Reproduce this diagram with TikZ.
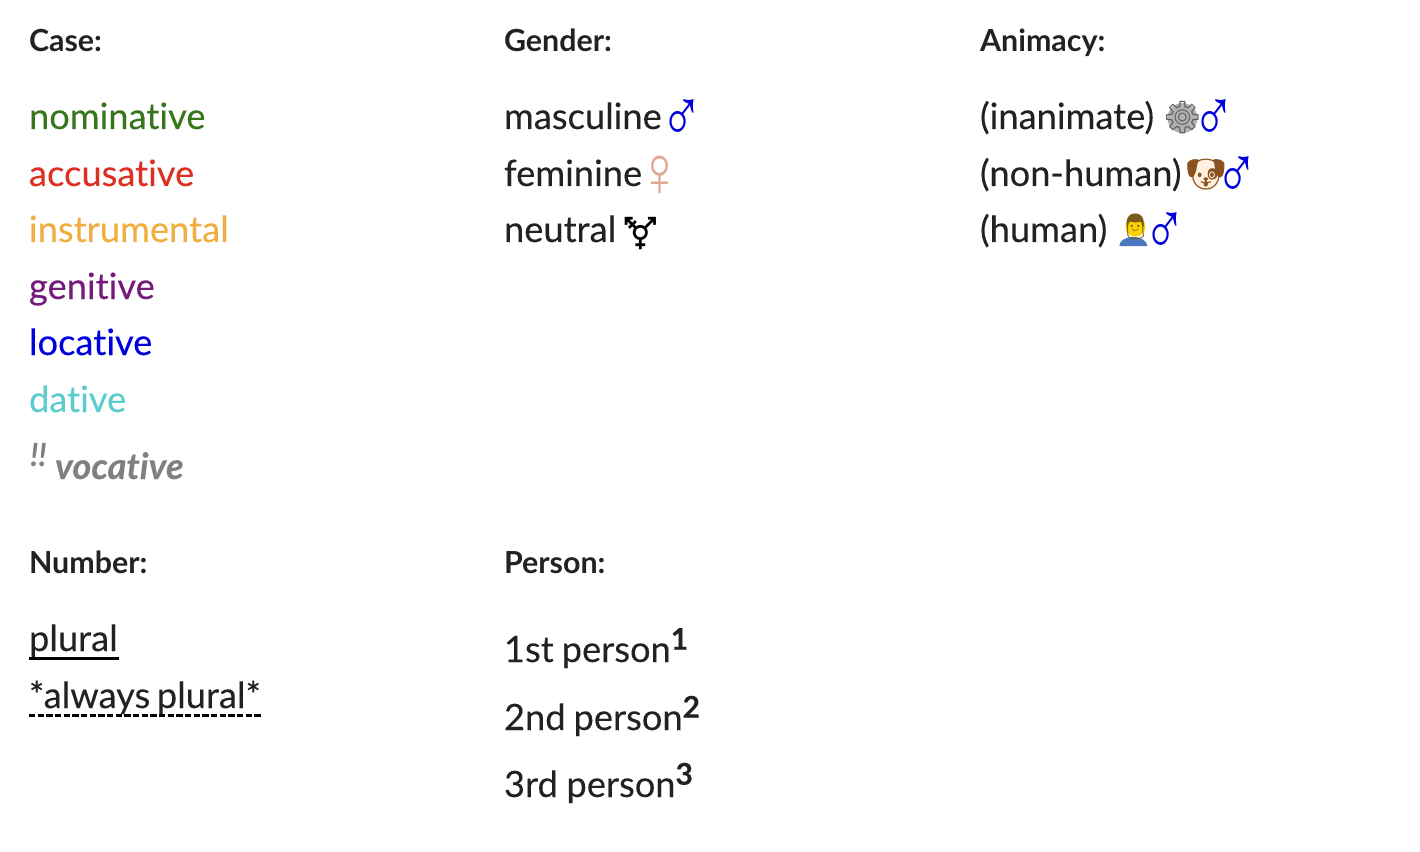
\documentclass[tikz,border=0pt]{standalone}
\usepackage{fontspec}
\usetikzlibrary{positioning,backgrounds}
\setmainfont[Ligatures=NoCommon]{Lato}
\newfontfamily\symfont{Liberation Sans}
\newfontfamily\emojifont{Noto Emoji}
\definecolor{ink}{HTML}{222222}
\definecolor{nomcol}{HTML}{38761D}
\definecolor{acccol}{HTML}{DC3020}
\definecolor{inscol}{HTML}{F0AD40}
\definecolor{gencol}{HTML}{741B7C}
\definecolor{loccol}{HTML}{0000DD}
\definecolor{datcol}{HTML}{5CCCCC}
\definecolor{voccol}{HTML}{808080}
\definecolor{femcol}{HTML}{E0A890}
\definecolor{gearcol}{HTML}{5F5F66}
\definecolor{dogcol}{HTML}{8A5220}
\definecolor{mancol}{HTML}{7A5A20}
\definecolor{shirtcol}{HTML}{4A78C0}
\newcommand{\supnum}[1]{\raisebox{9.2pt}{\fontsize{22.5}{26}\selectfont\bfseries #1}}
\begin{document}
\begin{tikzpicture}[x=.75pt,y=-.75pt,node distance=5pt,
    every node/.style={inner sep=0pt,outer sep=0pt,anchor=base west,text=ink},
    head node/.style={font=\fontsize{22.8}{26}\selectfont\bfseries},
    word node/.style={font=\fontsize{27.2}{32}\selectfont\addfontfeature{FakeBold=0.12}},
    voc node/.style={text=voccol,font=\fontsize{27.2}{32}\selectfont\bfseries\itshape\addfontfeature{FakeBold=0.2}},
    sign node/.style={font=\fontsize{43}{46}\selectfont\symfont,text=loccol},
    emoji node/.style={font=\fontsize{24}{28}\selectfont\emojifont}]
    \useasboundingbox (0,0) rectangle (1420,852);

    % case column
    \node[head node] (case) at (29,52) {Case:};
    \node[word node,text=nomcol] (nom) at (29,129) {nominative};
    \node[word node,text=acccol] (acc) at (29,186) {accusative};
    \node[word node,text=inscol] (ins) at (29,242) {instrumental};
    \node[word node,text=gencol] (gen) at (29,299) {genitive};
    \node[word node,text=loccol] (loc) at (29,355) {locative};
    \node[word node,text=datcol] (dat) at (29,412) {dative};
    \node[voc node,font=\fontsize{24}{28}\selectfont\bfseries\itshape] (excl) at (30,466) {!!};
    \node[voc node] (voc) at (55,479) {vocative};

    % gender column
    \node[head node] (gender) at (504,52) {Gender:};
    \node[word node] (masc) at (504,129) {masculine};
    \node[word node] (fem) at (504,186) {feminine};
    \node[word node] (neut) at (504,242) {neutral};
    \node[sign node,base right=-1pt of masc,yshift=-9.4pt] (mascsign) {\scalebox{1}[1.3]{♂}};
    \node[sign node,base right=-3.4pt of fem,yshift=-8.2pt,text=femcol,font=\fontsize{45}{48}\selectfont\symfont] (femsign) {\scalebox{1}[1.2]{♀}};
    \node[emoji node,base right=3pt of neut,yshift=-2pt,text=black] (neutsign) {⚧};

    % animacy column
    \node[head node] (anim) at (980,52) {Animacy:};
    \node[word node] (inan) at (980,129) {(inanimate)};
    \node[word node] (nonhum) at (980,186) {(non-human)};
    \node[word node] (hum) at (980,242) {(human)};
    \node[emoji node,base right=6pt of inan,text=gearcol] (gear) {⚙};
    \node[sign node,base right=-7.9pt of gear,yshift=-9.4pt] (inansign) {\scalebox{1}[1.3]{♂}};
    \node[emoji node,base right=3pt of nonhum,text=dogcol] (dog) {🐶};
    \node[sign node,base right=-7.9pt of dog,yshift=-9.4pt] (nonhumsign) {\scalebox{1}[1.3]{♂}};
    \node[emoji node,base right=9pt of hum,text=mancol,font=\fontsize{19}{22}\selectfont\emojifont,yshift=5pt] (man) {👨};
    \node[sign node,base right=-6pt of man,yshift=-14.4pt] (humsign) {\scalebox{1}[1.3]{♂}};

    % emoji fills
    \begin{scope}[on background layer]
        \fill[gray!60] (gear.center) circle (15);
        \fill[orange!12] (dog.center) circle (15);
        \fill[yellow!70!orange] (man.center) circle (10);
        \fill[shirtcol] ([yshift=-5pt]man.south west) arc[start angle=180,end angle=0,x radius=10.5pt,y radius=7pt] -- cycle;
    \end{scope}

    % number column
    \node[head node] (number) at (29,573) {Number:};
    \node[word node] (plur) at (29,651) {plural};
    \node[word node] (always) at (29,708) {*always\kern-2pt\ plural*};
    \draw[black,line width=2.1pt] ([yshift=-5.5pt]plur.base west) -- ([yshift=-5.5pt,xshift=1pt]plur.base east);
    \draw[black,line width=2.1pt,dash pattern=on 4.7pt off 1.8pt] ([yshift=-5.5pt]always.base west) -- ([yshift=-5.5pt]always.base east);

    % person column
    \node[head node] (person) at (504,573) {Person:};
    \node[word node] (first) at (504,662) {1st\kern-1pt\ person\supnum{1}};
    \node[word node] (second) at (504,730) {2nd\kern-1pt\ person\supnum{2}};
    \node[word node] (third) at (504,797) {3rd\kern-.5pt\ person\supnum{3}};
\end{tikzpicture}
\end{document}
